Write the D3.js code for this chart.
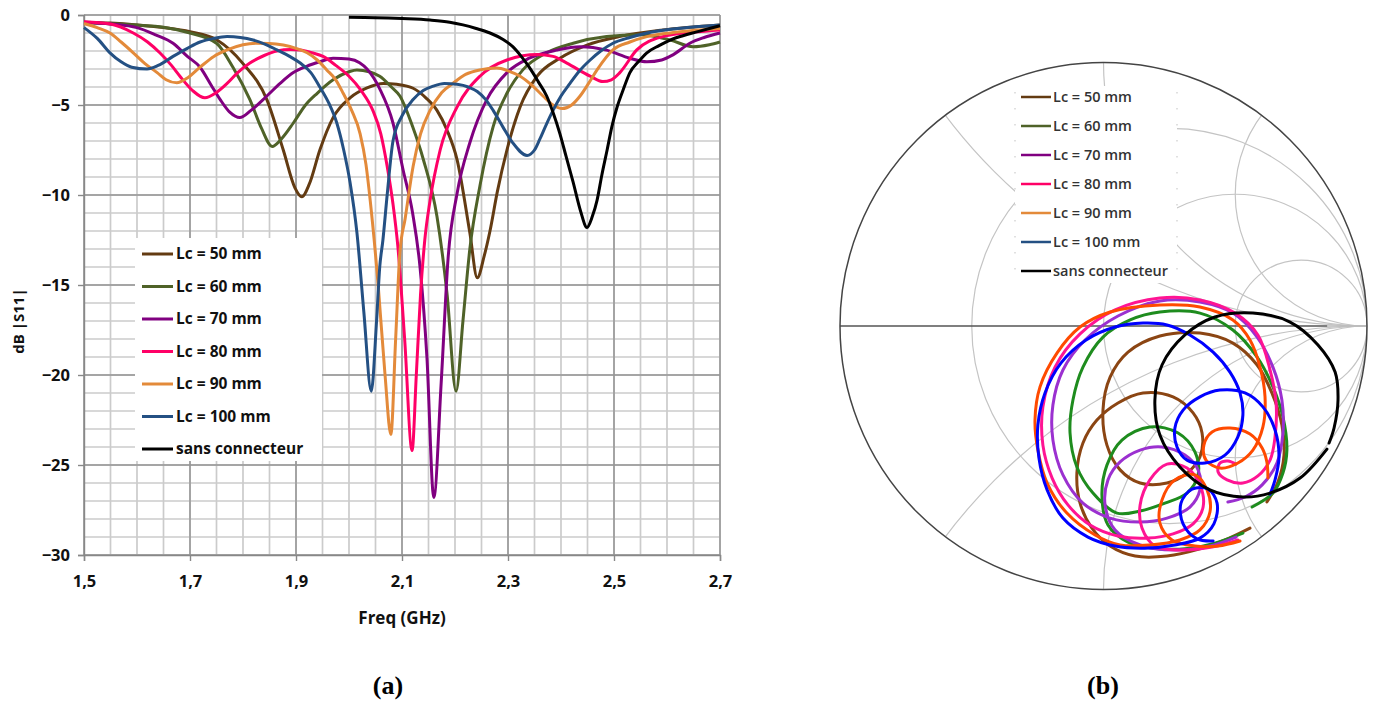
<!DOCTYPE html>
<html><head><meta charset="utf-8">
<script src="https://cdn.jsdelivr.net/npm/d3@7"></script>
<style>
body{margin:0;background:#fff;}
svg{display:block;}
</style></head><body>
<svg id="c" width="1373" height="702"></svg>
<script>
// ---------- shared ----------
const seriesNames = ["Lc = 50 mm","Lc = 60 mm","Lc = 70 mm","Lc = 80 mm","Lc = 90 mm","Lc = 100 mm","sans connecteur"];
const leftColors  = ["#633b12","#4f6228","#800080","#ff0066","#e38a3a","#245083","#000000"];
const smithColors = ["#8b4513","#1e8c1e","#9b30d0","#ff1493","#ff4a00","#0000ff","#000000"];

// ---------- (a) dB|S11| vs frequency ----------
const freqTicks = [1.5,1.7,1.9,2.1,2.3,2.5,2.7];
const dbTicks = [0,-5,-10,-15,-20,-25,-30];

const lc50 = [[1.50,-0.40],[1.55,-0.45],[1.60,-0.55],[1.65,-0.70],[1.70,-0.93],[1.751,-1.39],[1.80,-2.70],[1.845,-4.7],[1.876,-7.5],[1.898,-9.6],[1.911,-10.1],[1.925,-9.4],[1.945,-7.5],[1.97,-5.7],[2.002,-4.6],[2.034,-4.05],[2.065,-3.8],[2.09,-3.85],[2.121,-4.07],[2.145,-4.6],[2.166,-5.3],[2.185,-6.4],[2.204,-8.05],[2.228,-12.1],[2.242,-14.6],[2.255,-13.4],[2.266,-12.0],[2.28,-9.8],[2.298,-7.5],[2.323,-5.1],[2.355,-3.4],[2.398,-2.4],[2.449,-1.67],[2.51,-1.2],[2.592,-0.83],[2.70,-0.55]];
const lc60 = [[1.50,-0.43],[1.55,-0.48],[1.60,-0.56],[1.65,-0.68],[1.70,-1.0],[1.75,-1.57],[1.781,-2.9],[1.813,-4.7],[1.835,-6.3],[1.855,-7.3],[1.872,-6.9],[1.895,-6.0],[1.918,-5.0],[1.94,-4.35],[1.97,-3.6],[2.0,-3.15],[2.015,-3.05],[2.038,-3.15],[2.058,-3.4],[2.08,-4.0],[2.096,-4.5],[2.12,-6.2],[2.14,-8.0],[2.166,-11.2],[2.185,-15.5],[2.202,-20.9],[2.215,-17.0],[2.228,-13.0],[2.247,-9.5],[2.272,-6.2],[2.298,-4.35],[2.328,-3.05],[2.373,-2.1],[2.423,-1.57],[2.486,-1.2],[2.549,-1.1],[2.606,-1.39],[2.649,-1.76],[2.68,-1.65],[2.70,-1.5]];
const lc70 = [[1.50,-0.40],[1.55,-0.5],[1.60,-0.7],[1.635,-1.1],[1.668,-1.57],[1.695,-2.3],[1.719,-2.9],[1.74,-3.9],[1.757,-4.7],[1.775,-5.4],[1.794,-5.7],[1.815,-5.3],[1.845,-4.5],[1.87,-3.8],[1.895,-3.2],[1.92,-2.85],[1.945,-2.6],[1.97,-2.4],[2.0,-2.45],[2.02,-2.65],[2.034,-3.0],[2.058,-4.1],[2.083,-6.0],[2.102,-8.6],[2.12,-11.0],[2.134,-14.0],[2.147,-19.0],[2.16,-26.8],[2.174,-20.4],[2.187,-13.5],[2.204,-9.9],[2.228,-7.1],[2.26,-4.7],[2.298,-3.2],[2.34,-2.4],[2.392,-1.95],[2.436,-1.76],[2.486,-1.95],[2.53,-2.4],[2.562,-2.6],[2.59,-2.5],[2.612,-2.2],[2.643,-1.57],[2.67,-1.25],[2.70,-1.0]];
const lc80 = [[1.50,-0.37],[1.55,-0.5],[1.593,-1.0],[1.62,-1.5],[1.643,-2.1],[1.665,-2.8],[1.681,-3.4],[1.705,-4.2],[1.728,-4.6],[1.75,-4.3],[1.77,-3.8],[1.79,-3.2],[1.813,-2.67],[1.84,-2.25],[1.864,-2.0],[1.89,-1.92],[1.908,-1.94],[1.93,-2.1],[1.951,-2.3],[1.975,-2.8],[2.0,-3.4],[2.023,-4.2],[2.045,-5.3],[2.06,-6.6],[2.072,-8.4],[2.083,-10.5],[2.092,-12.8],[2.105,-18.0],[2.119,-24.2],[2.127,-20.0],[2.135,-15.5],[2.143,-12.5],[2.153,-10.3],[2.172,-7.5],[2.204,-5.1],[2.247,-3.4],[2.298,-2.5],[2.355,-2.2],[2.385,-2.3],[2.411,-2.67],[2.455,-3.4],[2.479,-3.7],[2.495,-3.6],[2.511,-3.2],[2.543,-1.94],[2.592,-1.2],[2.65,-0.95],[2.70,-0.83]];
const lc90 = [[1.50,-0.47],[1.525,-0.7],[1.549,-1.0],[1.57,-1.5],[1.593,-2.1],[1.615,-2.7],[1.638,-3.2],[1.655,-3.6],[1.675,-3.77],[1.695,-3.5],[1.719,-2.9],[1.745,-2.3],[1.77,-1.94],[1.80,-1.65],[1.826,-1.57],[1.85,-1.58],[1.876,-1.67],[1.90,-1.85],[1.921,-2.1],[1.94,-2.5],[1.958,-3.05],[1.975,-3.6],[1.989,-4.35],[2.005,-5.3],[2.021,-6.6],[2.032,-8.3],[2.04,-10.3],[2.055,-15.0],[2.068,-20.0],[2.079,-23.3],[2.088,-18.0],[2.096,-13.2],[2.106,-11.3],[2.121,-8.4],[2.135,-6.6],[2.153,-5.3],[2.175,-4.3],[2.196,-3.8],[2.22,-3.3],[2.247,-3.05],[2.279,-2.95],[2.30,-3.1],[2.323,-3.4],[2.345,-3.9],[2.366,-4.5],[2.385,-5.0],[2.402,-5.2],[2.42,-5.0],[2.436,-4.5],[2.452,-3.8],[2.468,-3.05],[2.498,-1.94],[2.53,-1.5],[2.562,-1.2],[2.62,-0.95],[2.70,-0.75]];
const lc100 = [[1.50,-0.7],[1.525,-1.3],[1.549,-2.1],[1.57,-2.6],[1.59,-2.9],[1.619,-3.0],[1.64,-2.8],[1.668,-2.3],[1.695,-1.85],[1.719,-1.5],[1.745,-1.3],[1.77,-1.2],[1.795,-1.25],[1.819,-1.39],[1.84,-1.6],[1.864,-1.94],[1.888,-2.3],[1.908,-2.67],[1.928,-3.2],[1.945,-4.0],[1.962,-4.9],[1.977,-6.0],[1.99,-7.5],[2.002,-9.3],[2.015,-12.1],[2.028,-16.5],[2.042,-20.9],[2.052,-17.0],[2.058,-14.0],[2.064,-12.5],[2.072,-10.0],[2.083,-7.0],[2.10,-5.6],[2.121,-4.7],[2.14,-4.2],[2.159,-3.95],[2.18,-3.8],[2.204,-3.85],[2.225,-4.0],[2.242,-4.25],[2.258,-4.7],[2.272,-5.3],[2.29,-6.2],[2.309,-7.1],[2.336,-7.8],[2.35,-7.5],[2.36,-6.9],[2.372,-6.1],[2.385,-5.3],[2.40,-4.5],[2.417,-3.8],[2.435,-3.1],[2.455,-2.5],[2.475,-2.0],[2.498,-1.57],[2.53,-1.25],[2.562,-1.0],[2.62,-0.75],[2.70,-0.55]];
const sansConn = [[2.00,-0.13],[2.05,-0.15],[2.10,-0.2],[2.153,-0.28],[2.19,-0.4],[2.215,-0.55],[2.24,-0.75],[2.266,-1.0],[2.29,-1.35],[2.309,-1.76],[2.325,-2.3],[2.34,-2.9],[2.357,-3.7],[2.373,-4.5],[2.386,-5.5],[2.398,-6.6],[2.41,-7.9],[2.423,-9.3],[2.437,-10.9],[2.449,-11.8],[2.459,-11.2],[2.468,-10.3],[2.477,-8.9],[2.487,-7.5],[2.496,-6.2],[2.506,-5.1],[2.518,-4.1],[2.53,-3.2],[2.546,-2.6],[2.562,-2.1],[2.585,-1.7],[2.606,-1.39],[2.63,-1.15],[2.656,-0.94],[2.68,-0.75],[2.70,-0.6]];
const dbSeries = [lc50,lc60,lc70,lc80,lc90,lc100,sansConn];

// ---------- (b) Smith chart (reflection coefficient, re / im) ----------
const smithR = [1/3, 1, 3];
const smithX = [0.5, 1, 2, -0.5, -1, -2];

const sm50 = [[0.556,-0.767],[0.461,-0.812],[0.366,-0.846],[0.241,-0.873],[0.120,-0.873],[0.025,-0.835],[-0.044,-0.767],[-0.089,-0.672],[-0.101,-0.558],[-0.078,-0.444],[-0.025,-0.357],[0.055,-0.292],[0.150,-0.254],[0.264,-0.269],[0.340,-0.330],[0.374,-0.406],[0.366,-0.497],[0.317,-0.558],[0.241,-0.596],[0.139,-0.596],[0.063,-0.546],[0.013,-0.452],[-0.002,-0.319],[0.025,-0.194],[0.093,-0.099],[0.214,-0.038],[0.366,-0.027],[0.491,-0.065],[0.583,-0.148],[0.639,-0.254],[0.677,-0.376],[0.685,-0.490],[0.662,-0.592],[0.620,-0.668]];
const sm60 = [[0.529,-0.786],[0.423,-0.824],[0.328,-0.843],[0.214,-0.846],[0.093,-0.820],[0.017,-0.755],[-0.006,-0.641],[0.013,-0.528],[0.070,-0.433],[0.176,-0.383],[0.283,-0.406],[0.347,-0.478],[0.359,-0.565],[0.317,-0.634],[0.233,-0.672],[0.139,-0.702],[0.051,-0.710],[-0.040,-0.634],[-0.101,-0.535],[-0.127,-0.406],[-0.116,-0.281],[-0.078,-0.156],[-0.002,-0.042],[0.101,0.023],[0.214,0.053],[0.366,0.049],[0.491,-0.015],[0.583,-0.118],[0.643,-0.231],[0.681,-0.345],[0.696,-0.471],[0.681,-0.558],[0.643,-0.634],[0.564,-0.687]];
const sm70 = [[0.503,-0.801],[0.404,-0.835],[0.271,-0.850],[0.139,-0.831],[0.044,-0.774],[0.006,-0.679],[0.017,-0.584],[0.063,-0.516],[0.139,-0.471],[0.222,-0.459],[0.309,-0.490],[0.359,-0.546],[0.366,-0.622],[0.328,-0.687],[0.241,-0.729],[0.139,-0.744],[0.025,-0.729],[-0.078,-0.672],[-0.154,-0.565],[-0.192,-0.433],[-0.192,-0.300],[-0.154,-0.167],[-0.070,-0.053],[0.055,0.038],[0.214,0.095],[0.366,0.091],[0.491,0.049],[0.583,-0.042],[0.643,-0.156],[0.677,-0.281],[0.681,-0.406],[0.658,-0.520],[0.602,-0.603],[0.537,-0.649],[0.472,-0.668]];
const sm80 = [[0.510,-0.812],[0.412,-0.839],[0.290,-0.850],[0.195,-0.835],[0.146,-0.767],[0.139,-0.679],[0.176,-0.584],[0.241,-0.524],[0.317,-0.539],[0.366,-0.603],[0.378,-0.687],[0.340,-0.751],[0.264,-0.789],[0.169,-0.805],[0.055,-0.797],[-0.051,-0.755],[-0.135,-0.679],[-0.195,-0.577],[-0.230,-0.452],[-0.230,-0.307],[-0.184,-0.156],[-0.089,-0.030],[0.044,0.061],[0.214,0.106],[0.366,0.099],[0.499,0.049],[0.586,-0.034],[0.632,-0.167],[0.655,-0.292],[0.651,-0.421],[0.632,-0.509],[0.586,-0.569],[0.529,-0.596],[0.469,-0.584],[0.435,-0.554],[0.442,-0.520],[0.472,-0.512],[0.503,-0.524]];
const sm90 = [[0.518,-0.816],[0.435,-0.835],[0.347,-0.835],[0.260,-0.812],[0.214,-0.748],[0.222,-0.660],[0.271,-0.584],[0.347,-0.565],[0.393,-0.622],[0.404,-0.706],[0.366,-0.774],[0.290,-0.812],[0.176,-0.831],[0.063,-0.831],[-0.032,-0.793],[-0.139,-0.710],[-0.214,-0.596],[-0.249,-0.471],[-0.260,-0.357],[-0.241,-0.231],[-0.176,-0.102],[-0.089,-0.004],[0.025,0.053],[0.214,0.080],[0.366,0.072],[0.491,0.023],[0.556,-0.053],[0.594,-0.156],[0.613,-0.269],[0.605,-0.383],[0.567,-0.471],[0.510,-0.520],[0.442,-0.539],[0.389,-0.509],[0.381,-0.452],[0.412,-0.402],[0.480,-0.387],[0.556,-0.410],[0.602,-0.463],[0.620,-0.516],[0.624,-0.577]];
const sm100 = [[0.416,-0.816],[0.355,-0.808],[0.302,-0.751],[0.294,-0.672],[0.336,-0.619],[0.397,-0.619],[0.431,-0.672],[0.419,-0.751],[0.366,-0.805],[0.271,-0.831],[0.157,-0.843],[0.044,-0.835],[-0.059,-0.801],[-0.154,-0.729],[-0.214,-0.622],[-0.245,-0.501],[-0.249,-0.376],[-0.222,-0.254],[-0.161,-0.140],[-0.066,-0.053],[0.044,-0.004],[0.150,0.011],[0.241,0.004],[0.328,-0.034],[0.416,-0.099],[0.480,-0.175],[0.518,-0.254],[0.529,-0.338],[0.510,-0.421],[0.461,-0.490],[0.385,-0.520],[0.317,-0.509],[0.279,-0.459],[0.271,-0.387],[0.302,-0.319],[0.366,-0.269],[0.442,-0.243],[0.537,-0.254],[0.605,-0.307],[0.651,-0.395],[0.666,-0.497],[0.651,-0.584],[0.632,-0.638]];
const smSans = [[0.848,-0.467],[0.746,-0.577],[0.632,-0.634],[0.529,-0.649],[0.404,-0.622],[0.290,-0.535],[0.214,-0.414],[0.195,-0.281],[0.222,-0.148],[0.309,-0.034],[0.423,0.034],[0.567,0.049],[0.708,0.015],[0.814,-0.072],[0.879,-0.175],[0.890,-0.281],[0.875,-0.387],[0.856,-0.444]];
const smithSeries = [sm50,sm60,sm70,sm80,sm90,sm100,smSans];

// ================= drawing =================
const svg = d3.select("#c");
const FONT = "'Open Sans', 'DejaVu Sans', sans-serif";

// ---- panel (a) ----
const x = d3.scaleLinear().domain([1.5,2.7]).range([84,720]);
const y = d3.scaleLinear().domain([-30,0]).range([555,15]);
const ga = svg.append("g");

const minorF = d3.range(0,25).map(i => 1.5 + i*0.05);
const minorD = d3.range(-30,1,1);
ga.append("g").selectAll("line").data(minorF).join("line")
  .attr("x1", d=>x(d)).attr("x2", d=>x(d)).attr("y1", y(0)).attr("y2", y(-30))
  .attr("stroke","#cbcbcb").attr("stroke-width",1.7);
ga.append("g").selectAll("line").data(minorD).join("line")
  .attr("x1", x(1.5)).attr("x2", x(2.7)).attr("y1", d=>y(d)).attr("y2", d=>y(d))
  .attr("stroke","#cbcbcb").attr("stroke-width",1.7);
ga.append("g").selectAll("line").data(freqTicks).join("line")
  .attr("x1", d=>x(d)).attr("x2", d=>x(d)).attr("y1", y(0)).attr("y2", y(-30))
  .attr("stroke","#959595").attr("stroke-width",1.5);
ga.append("g").selectAll("line").data(dbTicks).join("line")
  .attr("x1", x(1.5)).attr("x2", x(2.7)).attr("y1", d=>y(d)).attr("y2", d=>y(d))
  .attr("stroke","#959595").attr("stroke-width",1.5);

// axes
const yAxis = ga.append("g").attr("transform",`translate(${x(1.5)},0)`)
  .call(d3.axisLeft(y).tickValues(dbTicks).tickSize(6).tickPadding(8).tickFormat(d3.format("d")));
const xAxis = ga.append("g").attr("transform",`translate(0,${y(-30)})`)
  .call(d3.axisBottom(x).tickValues(freqTicks).tickSize(6).tickPadding(14).tickFormat(d => d3.format(".1f")(d).replace(".",",")));
[yAxis,xAxis].forEach(a => {
  a.selectAll(".domain").attr("stroke","#888").attr("stroke-width",1.4);
  a.selectAll(".tick line").attr("stroke","#888").attr("stroke-width",1.4);
  a.selectAll("text").attr("font-family",FONT).attr("font-weight",700).attr("font-size",16.5).attr("fill","#111");
});

const lineA = d3.line().x(d=>x(d[0])).y(d=>y(d[1])).curve(d3.curveMonotoneX);
ga.append("g").selectAll("path").data(dbSeries).join("path")
  .attr("d", lineA).attr("fill","none")
  .attr("stroke",(d,i)=>leftColors[i]).attr("stroke-width",3).attr("stroke-linejoin","round");

// legend (a)
const legA = ga.append("g");
legA.append("rect").attr("x",135).attr("y",238).attr("width",187).attr("height",223).attr("fill","#fff");
const legAi = legA.selectAll("g").data(seriesNames).join("g")
  .attr("transform",(d,i)=>`translate(142,${254 + i*32.5})`);
legAi.append("line").attr("x1",0).attr("x2",31).attr("stroke",(d,i)=>leftColors[i]).attr("stroke-width",3);
legAi.append("text").attr("x",34).attr("dy","0.35em").text(d=>d)
  .attr("font-family",FONT).attr("font-weight",700).attr("font-size",15.5).attr("fill","#111");

ga.append("text").attr("x",402).attr("y",618).attr("text-anchor","middle").attr("dy","0.35em")
  .attr("font-family",FONT).attr("font-weight",700).attr("font-size",17).attr("fill","#111").text("Freq (GHz)");
ga.append("text").attr("transform","translate(19,321) rotate(-90)").attr("text-anchor","middle").attr("dy","0.35em")
  .attr("font-family",FONT).attr("font-weight",700).attr("font-size",15).attr("fill","#111").text("dB |S11|");

// ---- panel (b) Smith chart ----
const cx = 1103.5, cy = 326, R = 263.5;
const gx = d3.scaleLinear().domain([-1,1]).range([cx-R, cx+R]);
const gy = d3.scaleLinear().domain([-1,1]).range([cy+R, cy-R]);
const gb = svg.append("g");
svg.append("defs").append("clipPath").attr("id","unit")
  .append("circle").attr("cx",gx(0)).attr("cy",gy(0)).attr("r",R);
const grid = gb.append("g").attr("clip-path","url(#unit)")
  .attr("fill","none").attr("stroke","#c4c4c4").attr("stroke-width",1.2);
grid.selectAll("circle.r").data(smithR).join("circle").attr("class","r")
  .attr("cx", r=>gx(r/(1+r))).attr("cy", gy(0)).attr("r", r=>gx(1/(1+r))-gx(0));
grid.selectAll("circle.x").data(smithX).join("circle").attr("class","x")
  .attr("cx", gx(1)).attr("cy", v=>gy(1/v)).attr("r", v=>gx(1/Math.abs(v))-gx(0));
gb.append("line").attr("x1",gx(-1)).attr("x2",gx(0.85)).attr("y1",gy(0)).attr("y2",gy(0))
  .attr("stroke","#555").attr("stroke-width",1.4);
gb.append("line").attr("x1",gx(0.85)).attr("x2",gx(1)).attr("y1",gy(0)).attr("y2",gy(0))
  .attr("stroke","#bbb").attr("stroke-width",1.4);
gb.append("circle").attr("cx",gx(0)).attr("cy",gy(0)).attr("r",R)
  .attr("fill","none").attr("stroke","#444").attr("stroke-width",1.5);

// legend (b) (box covers grid)
const legB = gb.append("g");
legB.append("rect").attr("x",1015).attr("y",86).attr("width",162).attr("height",197).attr("fill","#fff");
[1015,1177].forEach(xx => legB.append("line").attr("x1",xx).attr("x2",xx).attr("y1",92).attr("y2",280)
  .attr("stroke","#ccc").attr("stroke-width",1.2).attr("stroke-dasharray","1.5 14.5"));
const legBi = legB.selectAll("g.it").data(seriesNames).join("g").attr("class","it")
  .attr("transform",(d,i)=>`translate(1021,${97 + i*29})`);
legBi.append("line").attr("x1",0).attr("x2",30).attr("stroke",(d,i)=>leftColors[i]).attr("stroke-width",2.5);
legBi.append("text").attr("x",32).attr("dy","0.35em").text(d=>d)
  .attr("font-family",FONT).attr("font-weight",600).attr("font-size",14.5).attr("fill","#333");

const lineB = d3.line().x(d=>gx(d[0])).y(d=>gy(d[1])).curve(d3.curveCatmullRom.alpha(0.5));
gb.append("g").selectAll("path").data(smithSeries).join("path")
  .attr("d", lineB).attr("fill","none")
  .attr("stroke",(d,i)=>smithColors[i]).attr("stroke-width",3).attr("stroke-linejoin","round").attr("stroke-linecap","round");

// captions
svg.append("text").attr("x",388).attr("y",685).attr("dy","0.35em").attr("text-anchor","middle")
  .attr("font-family","'Liberation Serif', serif").attr("font-weight",700).attr("font-size",26).text("(a)");
svg.append("text").attr("x",1103).attr("y",685).attr("dy","0.35em").attr("text-anchor","middle")
  .attr("font-family","'Liberation Serif', serif").attr("font-weight",700).attr("font-size",26).text("(b)");
</script>
</body></html>
